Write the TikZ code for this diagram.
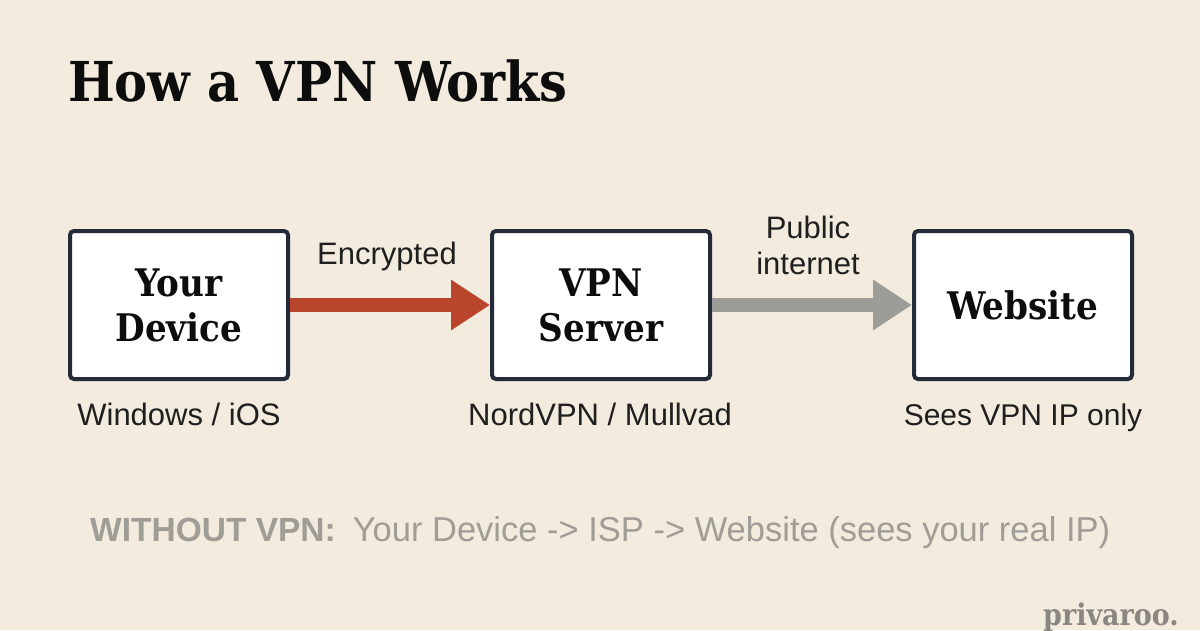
\documentclass[tikz,border=0pt]{standalone}
\usepackage{fontspec}
\setmainfont{Liberation Sans}
\newfontfamily\serifb{DejaVu Serif Condensed}
\usetikzlibrary{arrows.meta}
\definecolor{bgc}{HTML}{F4EBDF}
\definecolor{ink}{HTML}{232B38}
\definecolor{redc}{HTML}{B8452C}
\definecolor{grayc}{HTML}{9C9C98}
\definecolor{mute}{HTML}{A09C96}
\definecolor{brand}{HTML}{8A8782}
\tikzset{
 box/.style={draw=ink,line width=4pt,fill=white,rounded corners=4pt,minimum width=218pt,minimum height=148pt,inner sep=0pt,align=center,font=\serifb\bfseries\fontsize{38}{45}\selectfont,text=black!95},
 lab/.style={inner sep=0pt,anchor=base,font=\fontsize{31}{36}\selectfont,text=black!88,align=center},
 flow/.style={line width=14pt,draw=#1,-{Triangle[length=39pt,width=48pt]},shorten >=0pt},
}
\begin{document}
\begin{tikzpicture}[x=1pt,y=-1pt]
\useasboundingbox[fill=bgc] (0,0) rectangle (1200,630);
\node[anchor=base west,inner sep=0pt,font=\serifb\bfseries\fontsize{55}{60}\selectfont,text=black!95] (title) at (68,101) {How a VPN Works};
\node[box] (dev) at (179,305) {Your\\Device};
\node[box] (vpn) at (601,305) {VPN\\Server};
\node[box] (web) at (1023,305) {Website};
\draw[flow=redc] (dev.east) -- (vpn.west);
\draw[flow=grayc] (vpn.east) -- (web.west);
\node[lab] (enc) at (387,264) {Encrypted};
\node[lab,anchor=center] (pub) at (808,245) {Public\\internet};
\node[lab] (s1) at (179,425) {Windows / iOS};
\node[lab] (s2) at (600,425) {NordVPN / Mullvad};
\node[lab,font=\fontsize{30}{36}\selectfont] (s3) at (1023,425) {Sees VPN IP only};
\node[anchor=base west,inner sep=0pt,text=mute,font=\fontsize{34.5}{38}\selectfont] (without) at (90,541) {{\fontsize{33.5}{38}\selectfont\textbf{WITHOUT VPN:}}\hspace{17pt}Your Device -> ISP -> Website (sees your real IP)};
\node[anchor=base east,inner sep=0pt,text=brand,font=\serifb\bfseries\fontsize{30}{30}\selectfont] (brandn) at (1179,625) {privaroo.};
\end{tikzpicture}
\end{document}
